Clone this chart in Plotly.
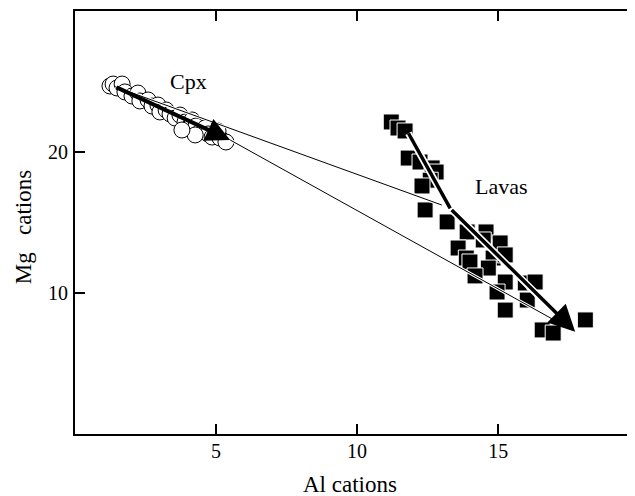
import plotly.graph_objects as go

# Clinopyroxene (open circles)
cpx_al = [1.24, 1.35, 1.49, 1.67, 1.77, 2.02, 2.23, 2.30, 2.59, 2.73, 2.94, 3.01, 3.23,
          3.37, 3.55, 3.72, 3.90, 4.01, 4.15, 4.29, 4.43, 4.61, 4.72, 4.86, 5.14, 5.35,
          5.07, 4.26, 3.79]
cpx_mg = [24.68, 24.82, 24.54, 24.82, 24.26, 23.97, 24.18, 23.62, 23.69, 23.26, 23.33,
          22.84, 22.98, 22.70, 22.41, 22.62, 22.13, 21.70, 22.27, 21.84, 21.42, 21.70,
          21.28, 21.06, 20.99, 20.71, 21.49, 21.21, 21.56]

# Lavas (filled squares)
lava_al = [11.21, 11.45, 11.70, 11.81, 12.23, 12.66, 12.80, 12.59, 12.30, 12.41, 13.19,
           13.90, 14.57, 14.47, 15.07, 13.58, 13.87, 14.00, 14.82, 15.25, 14.65, 14.18,
           15.25, 14.96, 15.96, 16.31, 16.03, 15.25, 16.56, 16.95, 18.09]
lava_mg = [22.13, 21.70, 21.49, 19.57, 19.29, 18.87, 18.58, 18.00, 17.59, 15.89, 15.04,
           14.33, 14.33, 13.76, 13.55, 13.19, 12.48, 12.20, 12.48, 12.70, 11.77, 11.21,
           10.78, 10.07, 10.71, 10.78, 9.50, 8.79, 7.38, 7.16, 8.09]

# Trend arrows
cpx_trend_al = [1.42, 5.50]
cpx_trend_mg = [24.63, 20.85]
lava_trend_al = [11.82, 13.30, 17.73]
lava_trend_mg = [21.33, 16.00, 7.26]

# Thin tie lines
tie_upper_al = [1.42, 13.00]
tie_upper_mg = [24.63, 16.24]
tie_lower_al = [5.50, 17.60]
tie_lower_mg = [20.85, 7.40]

x_ticks = [5, 10, 15]
y_ticks = [10, 20]

FONT = "Liberation Serif"

fig = go.Figure()

fig.add_trace(go.Scatter(
    x=cpx_al, y=cpx_mg, mode="markers",
    marker=dict(symbol="circle", size=16, color="white",
                line=dict(color="black", width=1)),
    hoverinfo="skip"))

fig.add_trace(go.Scatter(
    x=lava_al, y=lava_mg, mode="markers",
    marker=dict(symbol="square", size=16, color="black",
                line=dict(color="white", width=1)),
    hoverinfo="skip"))

for xs, ys in [(tie_upper_al, tie_upper_mg), (tie_lower_al, tie_lower_mg)]:
    fig.add_trace(go.Scatter(x=xs, y=ys, mode="lines",
                             line=dict(color="white", width=3), hoverinfo="skip"))
    fig.add_trace(go.Scatter(x=xs, y=ys, mode="lines",
                             line=dict(color="black", width=1), hoverinfo="skip"))

# Lavas trend (white halo + black line)
fig.add_trace(go.Scatter(x=lava_trend_al[:2] + [lava_trend_al[2] - 0.3],
                         y=lava_trend_mg[:2] + [lava_trend_mg[2] + 0.55],
                         mode="lines", line=dict(color="white", width=7),
                         hoverinfo="skip"))
fig.add_trace(go.Scatter(x=lava_trend_al[:2], y=lava_trend_mg[:2], mode="lines",
                         line=dict(color="black", width=3.5), hoverinfo="skip"))

# empty trace for the right-side tick axis
fig.add_trace(go.Scatter(x=[], y=[], yaxis="y2", hoverinfo="skip"))

annotations = [
    dict(x=cpx_trend_al[1], y=cpx_trend_mg[1], ax=cpx_trend_al[0], ay=cpx_trend_mg[0],
         xref="x", yref="y", axref="x", ayref="y", showarrow=True, text="",
         arrowhead=2, arrowsize=1.2, arrowwidth=4, arrowcolor="black"),
    dict(x=lava_trend_al[2], y=lava_trend_mg[2], ax=lava_trend_al[1], ay=lava_trend_mg[1],
         xref="x", yref="y", axref="x", ayref="y", showarrow=True, text="",
         arrowhead=2, arrowsize=1.5, arrowwidth=3.5, arrowcolor="black"),
    dict(x=4.01, y=25.0, xref="x", yref="y", text="Cpx", showarrow=False,
         font=dict(family=FONT, size=22, color="black")),
    dict(x=15.13, y=17.55, xref="x", yref="y", text="Lavas", showarrow=False,
         font=dict(family=FONT, size=22, color="black")),
    dict(x=0.491, y=0, xref="paper", yref="paper", yanchor="middle", yshift=-50,
         text="Al cations", showarrow=False,
         font=dict(family=FONT, size=23, color="black")),
    dict(x=0, y=0.489, xref="paper", yref="paper", xanchor="center", xshift=-52,
         text="Mg&nbsp;&nbsp;&nbsp;cations", textangle=-90, showarrow=False,
         font=dict(family=FONT, size=23, color="black")),
]

fig.update_layout(
    width=627, height=488, autosize=False,
    margin=dict(l=67, r=0, t=3, b=62, pad=0),
    plot_bgcolor="white", paper_bgcolor="white",
    showlegend=False,
    font=dict(family=FONT, color="black", size=20),
    annotations=annotations,
    xaxis=dict(range=[0, 19.85], tickvals=x_ticks, ticks="inside", ticklen=10,
               tickwidth=2, tickcolor="black", showline=True, linewidth=2,
               linecolor="black", mirror="ticks", showgrid=False, zeroline=False,
               tickfont=dict(family=FONT, size=20, color="black"),
               ticklabelstandoff=-2),
    yaxis=dict(range=[0, 30], tickvals=y_ticks, ticks="inside", ticklen=10,
               tickwidth=2, tickcolor="black", showline=True, linewidth=2,
               linecolor="black", mirror=False, showgrid=False, zeroline=False,
               tickfont=dict(family=FONT, size=20, color="black"),
               ticklabelstandoff=1),
    yaxis2=dict(range=[0, 30], tickvals=y_ticks, ticks="inside", ticklen=7,
                tickwidth=2, tickcolor="black", overlaying="y", side="right",
                anchor="x", showline=False, showgrid=False, zeroline=False,
                showticklabels=False),
)

fig.write_html("out.html")
